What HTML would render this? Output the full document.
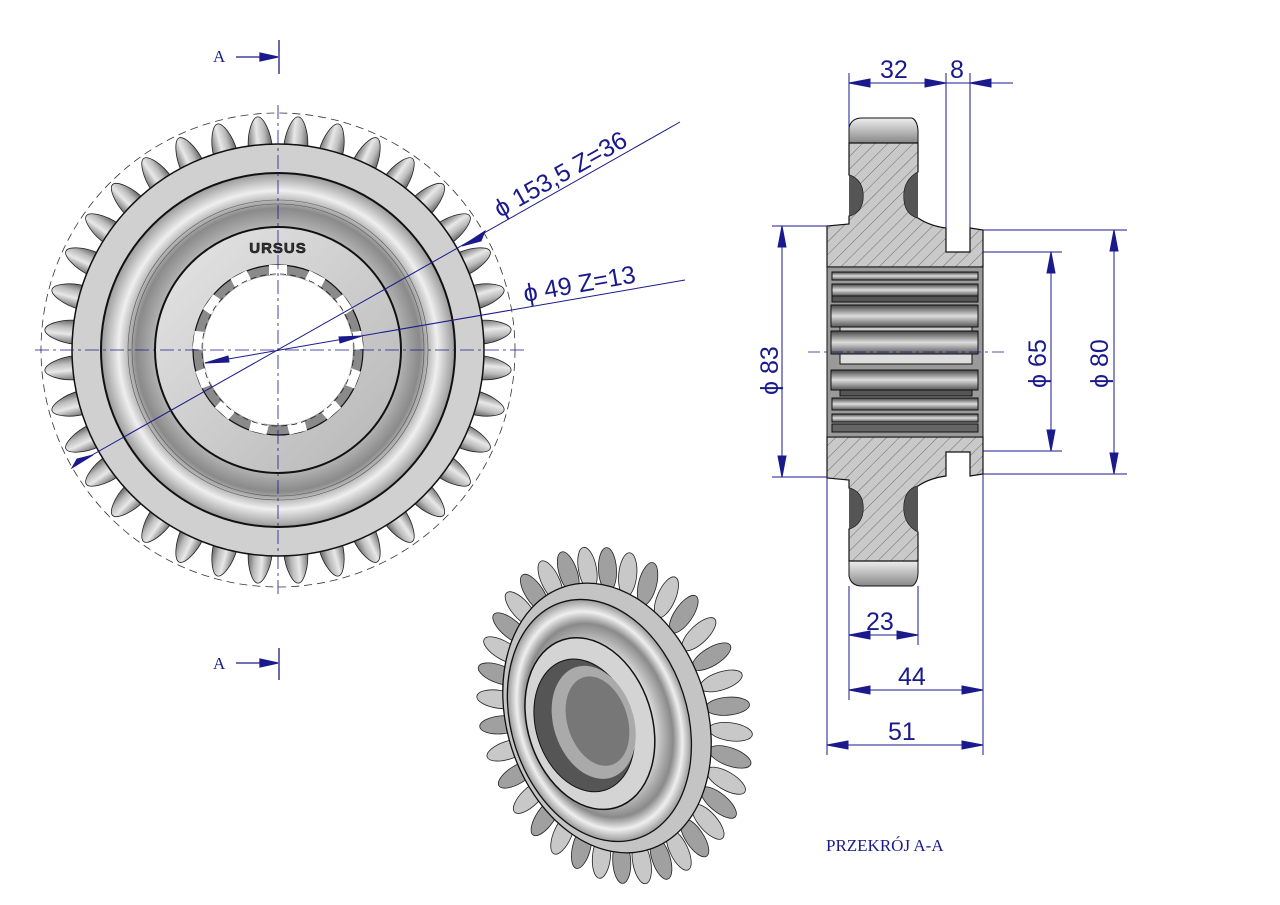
<!DOCTYPE html>
<html><head><meta charset="utf-8"><style>
html,body{margin:0;padding:0;background:#fff;}
svg{display:block}
.d{fill:#1a1a8c;font-family:"Liberation Sans",sans-serif;font-size:25px}
.s{fill:#1a1a8c;font-family:"Liberation Serif",serif;font-size:17px}
</style></head><body>
<svg id="sv" width="1280" height="905" viewBox="0 0 1280 905" xmlns="http://www.w3.org/2000/svg">
<defs>
<linearGradient id="tg" x1="0" x2="1" y1="0" y2="0">
<stop offset="0" stop-color="#777"/><stop offset="0.4" stop-color="#e8e8e8"/><stop offset="0.7" stop-color="#bbb"/><stop offset="1" stop-color="#666"/></linearGradient>
<radialGradient id="ring" cx="0.5" cy="0.5" r="0.5">
<stop offset="0.6" stop-color="#d8d8d8"/><stop offset="0.8" stop-color="#8a8a8a"/><stop offset="0.9" stop-color="#efefef"/><stop offset="1" stop-color="#9a9a9a"/></radialGradient>
<linearGradient id="bg" x1="0" x2="1" y1="0" y2="1"><stop offset="0" stop-color="#e6e6e6"/><stop offset="1" stop-color="#b5b5b5"/></linearGradient>
<pattern id="hat" width="9" height="9" patternUnits="userSpaceOnUse" patternTransform="rotate(45)">
<rect width="9" height="9" fill="#c9c9c9"/><line x1="0" y1="0" x2="0" y2="9" stroke="#555" stroke-width="0.8"/></pattern>
<linearGradient id="sp" x1="0" x2="0" y1="0" y2="1"><stop offset="0" stop-color="#444"/><stop offset="0.5" stop-color="#ddd"/><stop offset="1" stop-color="#555"/></linearGradient>
<linearGradient id="tt" x1="0" x2="0" y1="0" y2="1"><stop offset="0" stop-color="#eee"/><stop offset="1" stop-color="#888"/></linearGradient>
</defs>

<!-- FRONT VIEW -->
<g id="teeth" transform="translate(278,350)"></g>
<g transform="translate(278,350)">
<circle r="237" fill="none" stroke="#333" stroke-width="0.8" stroke-dasharray="8 5"/>
<circle r="206" fill="#d0d0d0" stroke="#111" stroke-width="1.5"/>
<circle r="177" fill="url(#ring)" stroke="#111" stroke-width="2"/>
<circle r="150" fill="none" stroke="#555" stroke-width="0.6"/>
<circle r="146" fill="none" stroke="#555" stroke-width="0.6"/>
<circle r="123" fill="url(#bg)" stroke="#111" stroke-width="2"/>
<circle r="85" fill="#8a8a8a" stroke="#111" stroke-width="1.2"/>
<g id="spl"></g>
<circle r="76" fill="none" stroke="#222" stroke-width="0.8" stroke-dasharray="6 4"/>
<text x="0" y="-97" text-anchor="middle" font-family="Liberation Sans" font-weight="bold" font-size="15" fill="#333" stroke="#111" stroke-width="0.6" letter-spacing="1">URSUS</text>
</g>
<!-- center lines -->
<g stroke="#1a1a8c" stroke-width="0.8" stroke-dasharray="14 4 3 4">
<line x1="35" y1="350" x2="525" y2="350"/><line x1="278" y1="105" x2="278" y2="595"/>
</g>
<!-- dims front -->
<g stroke="#1a1a8c" stroke-width="1" fill="#1a1a8c">
<line x1="78" y1="463" x2="680" y2="122"/>
<polygon points="462,246 485,231 481,241"/>
<polygon points="93,455 72,468 77,459"/>
<line x1="205" y1="363" x2="685" y2="280"/>
<polygon points="205,363 228,356 229,362"/>
<polygon points="362,336 340,343 339,337"/>
</g>
<text class="d" transform="translate(500,218) rotate(-29.5)">ϕ 153,5 Z=36</text>
<text class="d" transform="translate(525,302) rotate(-10)">ϕ 49  Z=13</text>
<!-- A markers -->
<g stroke="#1a1a8c" stroke-width="1.3" fill="#1a1a8c">
<line x1="236" y1="57" x2="275" y2="57"/><polygon points="278,57 260,53 260,61"/><line x1="279" y1="40" x2="279" y2="74"/>
<line x1="236" y1="663" x2="275" y2="663"/><polygon points="278,663 260,659 260,667"/><line x1="279" y1="648" x2="279" y2="680"/>
</g>
<text class="s" x="213" y="62">A</text><text class="s" x="213" y="669">A</text>

<!-- SECTION VIEW -->
<g>
<path d="M849,143 L849,128 Q851,118 862,118 L912,118 Q917,120 918,130 L918,143 Z" fill="url(#tt)" stroke="#111"/>
<path d="M849,561 L849,576 Q851,586 862,586 L912,586 Q917,584 918,574 L918,561 Z" fill="url(#tt)" stroke="#111"/>
<path d="M849,143 L918,143 L918,172 Q904,180 904,196 Q904,214 918,218 Q930,226 946,228 L946,252 L970,252 L970,228 L983,230 L983,267 L827,267 L827,226 L849,224 L849,216 Q863,212 863,196 Q863,180 849,175 Z" fill="url(#hat)" stroke="#111" stroke-width="1.2"/>
<path d="M849,561 L918,561 L918,532 Q904,524 904,508 Q904,490 918,486 Q930,478 946,476 L946,452 L970,452 L970,476 L983,474 L983,437 L827,437 L827,478 L849,480 L849,488 Q863,492 863,508 Q863,524 849,529 Z" fill="url(#hat)" stroke="#111" stroke-width="1.2"/>
<path d="M849,175 Q863,180 863,196 Q863,212 849,216 Z M918,172 Q904,180 904,196 Q904,214 918,218 Z" fill="#555"/>
<path d="M849,529 Q863,524 863,508 Q863,492 849,488 Z M918,532 Q904,524 904,508 Q904,490 918,486 Z" fill="#555"/>
<rect x="827" y="267" width="156" height="170" fill="#9a9a9a" stroke="#111"/>
<g stroke="#111" stroke-width="1">
<rect x="832" y="272" width="146" height="8" fill="url(#sp)"/>
<rect x="832" y="284" width="146" height="12" fill="url(#sp)"/>
<rect x="832" y="296" width="146" height="6" fill="#555"/>
<rect x="831" y="305" width="147" height="22" fill="url(#sp)"/>
<rect x="840" y="327" width="132" height="6" fill="#ccc"/>
<rect x="831" y="331" width="147" height="23" fill="url(#sp)"/>
<rect x="840" y="354" width="132" height="10" fill="#ddd"/>
<rect x="831" y="370" width="147" height="20" fill="url(#sp)"/>
<rect x="840" y="390" width="132" height="6" fill="#555"/>
<rect x="832" y="398" width="146" height="12" fill="url(#sp)"/>
<rect x="832" y="414" width="146" height="8" fill="url(#sp)"/>
<rect x="832" y="424" width="146" height="8" fill="#666"/>
</g>
<line x1="808" y1="352" x2="1004" y2="352" stroke="#1a1a8c" stroke-width="0.7" stroke-dasharray="12 4 3 4"/>
</g>
<g stroke="#1a1a8c" stroke-width="1" fill="#1a1a8c">
<line x1="849" y1="73" x2="849" y2="128"/><line x1="946" y1="73" x2="946" y2="228"/><line x1="970" y1="73" x2="970" y2="228"/>
<line x1="849" y1="83" x2="1013" y2="83"/>
<polygon points="849,83 870,79 870,87"/><polygon points="946,83 925,79 925,87"/><polygon points="970,83 991,79 991,87"/>
<line x1="772" y1="226" x2="827" y2="226"/><line x1="772" y1="477" x2="827" y2="477"/>
<line x1="782" y1="226" x2="782" y2="477"/><polygon points="782,226 778,247 786,247"/><polygon points="782,477 778,456 786,456"/>
<line x1="983" y1="252" x2="1062" y2="252"/><line x1="983" y1="451" x2="1062" y2="451"/>
<line x1="1051" y1="252" x2="1051" y2="451"/><polygon points="1051,252 1047,273 1055,273"/><polygon points="1051,451 1047,430 1055,430"/>
<line x1="983" y1="230" x2="1127" y2="230"/><line x1="983" y1="474" x2="1127" y2="474"/>
<line x1="1114" y1="230" x2="1114" y2="474"/><polygon points="1114,230 1110,251 1118,251"/><polygon points="1114,474 1110,453 1118,453"/>
<line x1="849" y1="586" x2="849" y2="700"/><line x1="918" y1="586" x2="918" y2="645"/>
<line x1="827" y1="478" x2="827" y2="755"/><line x1="983" y1="474" x2="983" y2="755"/>
<line x1="849" y1="635" x2="918" y2="635"/><polygon points="849,635 870,631 870,639"/><polygon points="918,635 897,631 897,639"/>
<line x1="849" y1="690" x2="983" y2="690"/><polygon points="849,690 870,686 870,694"/><polygon points="983,690 962,686 962,694"/>
<line x1="827" y1="745" x2="983" y2="745"/><polygon points="827,745 848,741 848,749"/><polygon points="983,745 962,741 962,749"/>
</g>
<text class="d" x="880" y="78">32</text><text class="d" x="950" y="78">8</text>
<text class="d" x="866" y="630">23</text><text class="d" x="898" y="685">44</text><text class="d" x="888" y="740">51</text>
<text class="d" transform="translate(778,395) rotate(-90)">ϕ 83</text>
<text class="d" transform="translate(1046,388) rotate(-90)">ϕ 65</text>
<text class="d" transform="translate(1108,388) rotate(-90)">ϕ 80</text>
<text class="s" x="826" y="851">PRZEKRÓJ A-A</text>

<!-- ISOMETRIC -->
<g transform="translate(607,718) rotate(-18)">
<g id="iso"></g>
<ellipse rx="100" ry="138" fill="#c4c4c4" stroke="#111" stroke-width="1.3"/>
<ellipse cx="-8" rx="88" ry="124" fill="url(#ring)" stroke="#111" stroke-width="1.3"/>
<ellipse cx="-18" rx="62" ry="88" fill="#d4d4d4" stroke="#111" stroke-width="1.5"/>
<ellipse cx="-24" rx="48" ry="68" fill="#555" stroke="#111"/>
<ellipse cx="-14" rx="40" ry="58" fill="#aaa"/>
<ellipse cx="-10" rx="30" ry="46" fill="#777"/>
</g>
<script>
var ns="http://www.w3.org/2000/svg";
var t=document.getElementById("teeth");
for(var i=0;i<36;i++){var p=document.createElementNS(ns,"path");
p.setAttribute("d","M-12,-202 C-12,-220 -5,-234 0,-234 C5,-234 12,-220 12,-202 Z");
p.setAttribute("fill","url(#tg)");p.setAttribute("stroke","#222");p.setAttribute("stroke-width","0.8");
p.setAttribute("transform","rotate("+(i*10+5)+")");t.appendChild(p);}
var s=document.getElementById("spl");
for(var i=0;i<13;i++){var r=document.createElementNS(ns,"rect");
r.setAttribute("x","-9");r.setAttribute("y","-85");r.setAttribute("width","18");r.setAttribute("height","10");r.setAttribute("fill","#fff");
r.setAttribute("transform","rotate("+(i*360/13)+")");s.appendChild(r);}
var c=document.createElementNS(ns,"circle");c.setAttribute("r","75");c.setAttribute("fill","#fff");s.appendChild(c);
var g=document.getElementById("iso");
for(var i=0;i<36;i++){var a=i*10*Math.PI/180;var x=Math.cos(a)*112,y=Math.sin(a)*150;
var r2=document.createElementNS(ns,"ellipse");r2.setAttribute("cx",x+8);r2.setAttribute("cy",y);r2.setAttribute("rx","22");r2.setAttribute("ry","9");
r2.setAttribute("fill",i%2?"#a0a0a0":"#c8c8c8");r2.setAttribute("stroke","#222");r2.setAttribute("stroke-width","0.8");
r2.setAttribute("transform","rotate("+(Math.atan2(y,x)*180/Math.PI)+" "+(x+8)+" "+y+")");g.appendChild(r2);}
</script>
</svg>
</body></html>
